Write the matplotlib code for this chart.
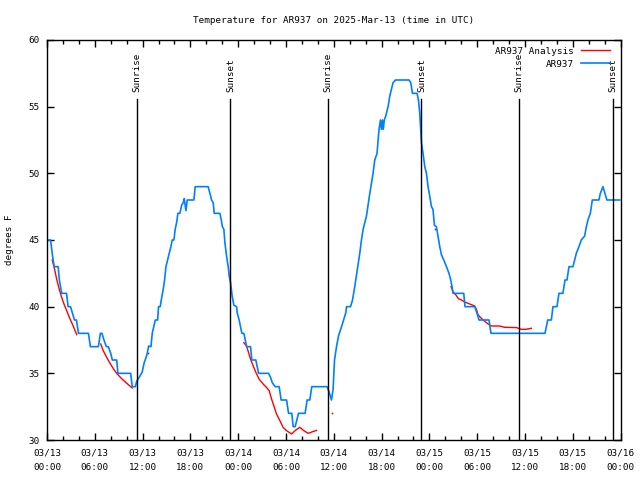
import numpy as np
import matplotlib
matplotlib.use('Agg')
import matplotlib.pyplot as plt

# observed temps (hours since 03/13 00:00 UTC, deg F)
obs_h = [0.0, 0.45, 0.65, 0.9, 1.4, 1.55, 1.85, 2.45, 2.65, 2.95, 3.2, 3.45, 3.7, 3.95, 5.2, 5.45,
         6.45, 6.7, 6.9, 7.15, 7.45, 7.7, 8.0, 8.2, 8.75, 8.9, 10.5, 10.7, 11.1,
         11.25, 11.67, 11.95, 12.2, 12.38, 12.58, 12.76, 13.05, 13.21, 13.42, 13.59, 13.89, 14.0, 14.21,
         14.43, 14.59, 14.76, 14.93, 15.14, 15.3, 15.55, 15.72, 15.93, 16.09, 16.27, 16.43, 16.68, 16.9,
         17.1, 17.22, 17.44, 17.6, 18.44, 18.6, 20.23, 20.45, 20.66, 20.86, 20.99, 21.7, 21.91, 22.01,
         22.2, 22.33, 22.54, 22.74, 22.87, 23.04, 23.24, 23.46, 23.8, 23.87, 24.12, 24.46, 24.71, 24.96,
         25.05, 25.55, 25.71, 26.21, 26.56, 27.81, 28.06, 28.28, 28.64, 29.14, 29.39, 30.07, 30.32, 30.73,
         30.9, 31.15, 31.57, 32.4, 32.65, 32.99, 33.24, 35.16, 35.41, 35.71, 35.91, 36.09, 36.34, 36.59,
         37.0, 37.51, 37.6, 38.1, 38.35, 38.63, 39.01, 39.26, 39.47, 39.68, 40.1, 40.52, 40.93, 41.14,
         41.43, 41.56, 41.68, 41.86, 41.98, 42.11, 42.21, 42.34, 42.52, 42.81, 43.03, 43.24, 43.44, 43.74,
         45.45, 45.66, 45.87, 46.45, 46.63, 46.79, 46.88, 47.0, 47.2, 47.42, 47.63, 47.83, 48.04, 48.26,
         48.45, 48.63, 48.88, 49.08, 49.3, 49.51, 49.8, 50.14, 50.46, 50.68, 50.84, 50.97, 52.31, 52.47,
         53.69, 53.98, 54.23, 55.48, 55.73, 62.51, 62.68, 62.85, 63.31, 63.51, 64.01, 64.26, 64.76, 65.02,
         65.27, 65.52, 66.02, 66.23, 66.44, 66.77, 67.07, 67.49, 67.7, 67.9, 68.2, 68.45, 69.28, 69.46,
         69.78, 70.03, 70.28, 71.88]
obs_t = [45, 45, 44, 43, 43, 42, 41, 41, 40, 40, 39.5, 39, 39, 38, 38, 37,
         37, 38, 38, 37.5, 37, 37, 36.5, 36, 36, 35, 35, 34, 34,
         34.4, 34.8, 35.1, 35.8, 36.1, 36.5, 37.05, 37, 38, 38.55, 39, 39, 40, 40,
         40.8, 41.3, 42, 43, 43.5, 43.9, 44.5, 45, 45, 45.8, 46.3, 47, 47, 47.6,
         47.8, 48.1, 47.2, 48, 48, 49, 49, 48.5, 48, 47.8, 47, 47, 46.4, 46.0,
         45.8, 44.8, 43.8, 43, 42.3, 41.8, 40.8, 40.1, 40, 39.55, 39, 38, 38, 37.3,
         37, 37, 36, 36, 35, 35, 34.7, 34.3, 34, 34, 33, 33, 32, 32,
         31, 31, 32, 32, 33, 33, 34, 34, 33.6, 33, 33.8, 36, 37, 37.8,
         38.55, 39.55, 40, 40, 40.5, 41.5, 43, 44, 45, 45.8, 46.8, 48.5, 50, 51,
         51.5, 52.5, 53.3, 54, 53.3, 54, 53.3, 54, 54.3, 55, 55.8, 56.3, 56.8, 57,
         57, 56.8, 56, 56, 55.5, 54.5, 53.5, 52.3, 51.5, 50.5, 50, 49, 48.3, 47.5,
         47.3, 46.1, 46, 45.3, 44.5, 43.9, 43.5, 43, 42.5, 42, 41.5, 41, 41, 40,
         40, 39.5, 39, 39, 38, 38, 38.5, 39, 39, 40, 40, 41, 41, 42,
         42, 43, 43, 43.5, 44, 44.5, 45, 45.3, 46, 46.5, 47, 48, 48, 48.5,
         49, 48.5, 48, 48]

# analysis temps, nan = gap
ana_h = [0.66, 0.88, 1.22, 1.54, 1.84, 2.13, 2.47, 2.8, 3.1, 3.39, 3.73, np.nan,
         6.74, 7.06, 7.49, 7.9, 8.32, 8.74, 9.37, 10.0, 10.7, np.nan,
         24.71, 25.05, 25.3, 25.55, 25.88, 26.22, 26.63, 27.13, 27.56, 27.89, 28.19, 28.47, 28.81,
         29.23, 29.64, 30.07, 30.7, 31.23, 31.74, 32.24, 32.78, 33.33, 33.83, np.nan,
         50.72, 50.97, 51.3, 51.64, 52.02, 52.43, 52.85, 53.27, 53.69, 53.9, 54.1, 54.4, 54.73,
         55.16, 55.48, 55.78, 56.82, 57.45, 58.92, 59.54, 60.09, 60.8]
ana_t = [43.5, 43.0, 42.05, 41.3, 40.7, 40.2, 39.7, 39.2, 38.8, 38.4, 37.9, np.nan,
         37.2, 36.7, 36.2, 35.76, 35.36, 35.0, 34.6, 34.26, 33.9, np.nan,
         37.3, 37.05, 36.56, 36.06, 35.56, 35.07, 34.56, 34.2, 33.94, 33.7, 33.07, 32.57, 31.95,
         31.45, 30.95, 30.7, 30.45, 30.75, 30.95, 30.7, 30.5, 30.62, 30.72, np.nan,
         41.5, 41.1, 40.9, 40.6, 40.5, 40.35, 40.25, 40.15, 40.05, 39.8, 39.4, 39.2, 39.0,
         38.8, 38.65, 38.55, 38.55, 38.45, 38.43, 38.3, 38.3, 38.38]
# single analysis samples
dot_h = [12.73, 35.79, 48.67]
dot_t = [36.5, 32.0, 45.84]

sunrise_h = [11.26, 35.27, 59.24]
sunset_h = [23.02, 47.0, 71.05]

xtick_h = list(range(0, 73, 6))
xtick_lbl = ['03/13\n00:00', '03/13\n06:00', '03/13\n12:00', '03/13\n18:00',
             '03/14\n00:00', '03/14\n06:00', '03/14\n12:00', '03/14\n18:00',
             '03/15\n00:00', '03/15\n06:00', '03/15\n12:00', '03/15\n18:00',
             '03/16\n00:00']

fnt = 'DejaVu Sans Mono'
fs = 6.7
plt.rcParams['font.family'] = fnt
plt.rcParams['font.size'] = fs

fig = plt.figure(figsize=(6.4, 4.8), dpi=100)
ax = fig.add_axes([47 / 640, 40 / 480, 574 / 640, 400 / 480])

ax.plot(ana_h, ana_t, color='red', lw=1.0, label='AR937 Analysis')
ax.plot(dot_h, dot_t, color='red', ls='none', marker='s', ms=1.2, mew=0)
ax.plot(obs_h, obs_t, color='#0080ff', lw=1.2, label='AR937')

for h in sunrise_h:
    ax.plot([h, h], [30, 55.6], color='black', lw=1)
    ax.text(h, 56.1, 'Sunrise', rotation=90, ha='center', va='bottom', fontsize=fs)
for h in sunset_h:
    ax.plot([h, h], [30, 55.6], color='black', lw=1)
    ax.text(h, 56.1, 'Sunset', rotation=90, ha='center', va='bottom', fontsize=fs)

ax.set_xlim(0, 72.05)
ax.set_ylim(30, 60)
ax.set_xticks(xtick_h)
ax.set_xticklabels(xtick_lbl, linespacing=1.75)
ax.set_xticks(np.arange(0, 73, 2), minor=True)
ax.set_yticks(range(30, 61, 5))
ax.tick_params(which='both', direction='in', top=True, right=True, width=1, labelsize=fs)
ax.tick_params(which='major', length=5)
ax.tick_params(which='minor', length=3)
ax.tick_params(axis='x', pad=6)
ax.tick_params(axis='y', pad=5)
for s in ax.spines.values():
    s.set_linewidth(1)

ax.set_ylabel('degrees F', fontsize=fs, labelpad=11)
ax.set_title('Temperature for AR937 on 2025-Mar-13 (time in UTC)', fontsize=fs, pad=12)

ax.legend(loc='upper right', bbox_to_anchor=(0.992, 1.0), frameon=False, markerfirst=False,
          fontsize=fs, handlelength=3.1, labelspacing=0.45, borderaxespad=0.3, handletextpad=0.8)

plt.savefig('out.png', dpi=100)
